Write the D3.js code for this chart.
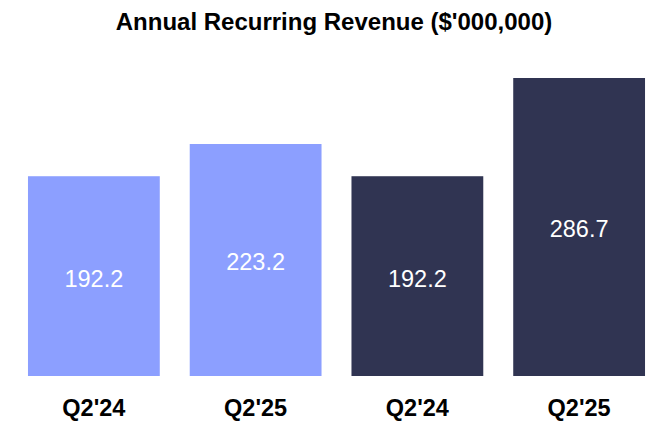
<!DOCTYPE html>
<html>
<head>
<meta charset="utf-8">
<script src="https://cdn.jsdelivr.net/npm/d3@7"></script>
<style>
    body { margin: 0; background: #fff; }
    text { font-family: "Liberation Sans", Arial, sans-serif; }
</style>
</head>
<body>
<svg id="chart" width="672" height="432"></svg>
<script>
// Chart data
var categories = ["Q2'24 a", "Q2'25 a", "Q2'24 b", "Q2'25 b"];
var tickLabels = ["Q2'24", "Q2'25", "Q2'24", "Q2'25"];
var values = [192.2, 223.2, 192.2, 286.7];
var barColors = ["#8c9fff", "#8c9fff", "#303452", "#303452"];

var width = 672;
var height = 432;

var margin = {
    top: 78,
    bottom: 56,
    left: 19,
    right: 18
};

var svg = d3.select('svg#chart');

// Title
svg.append('text')
    .attr('x', 334)
    .attr('y', 29.5)
    .attr('text-anchor', 'middle')
    .style('font-size', '24px')
    .style('font-weight', 'bold')
    .attr('fill', '#000')
    .text("Annual Recurring Revenue ($'000,000)");

var x = d3.scaleBand()
    .domain(categories)
    .range([margin.left, width - margin.right])
    .paddingInner(30 / 162)
    .paddingOuter(0.0555);

var y = d3.scaleLinear()
    .domain([0, 286.7])
    .range([height - margin.bottom, margin.top]);

var g = svg.append('g');

// Bars
g.selectAll('.bar')
    .data(values)
    .enter().append('rect')
        .attr('class', 'bar')
        .attr('x', function(d, i) { return x(categories[i]); })
        .attr('y', function(d) { return y(d); })
        .attr('width', x.bandwidth())
        .attr('height', function(d) { return y(0) - y(d); })
        .attr('fill', function(d, i) { return barColors[i]; });

// Value labels in middle of each bar
g.selectAll('.value')
    .data(values)
    .enter().append('text')
        .attr('class', 'value')
        .attr('x', function(d, i) { return x(categories[i]) + x.bandwidth() / 2; })
        .attr('y', function(d) { return (y(d) + y(0)) / 2 + 2; })
        .attr('dy', '0.36em')
        .attr('text-anchor', 'middle')
        .attr('fill', '#fff')
        .style('font-size', '23.5px')
        .text(function(d) { return d.toFixed(1); });

// Category axis
var axis = d3.axisBottom(x)
    .tickSize(0)
    .tickPadding(23)
    .tickFormat(function(d, i) { return tickLabels[i]; });

var axisG = svg.append('g')
    .attr('transform', 'translate(0,' + y(0) + ')')
    .call(axis);
axisG.select('.domain').remove();
axisG.selectAll('text')
    .style('font-size', '23.5px')
    .style('font-weight', 'bold')
    .style('font-family', '"Liberation Sans", Arial, sans-serif')
    .attr('fill', '#000');
</script>
</body>
</html>
